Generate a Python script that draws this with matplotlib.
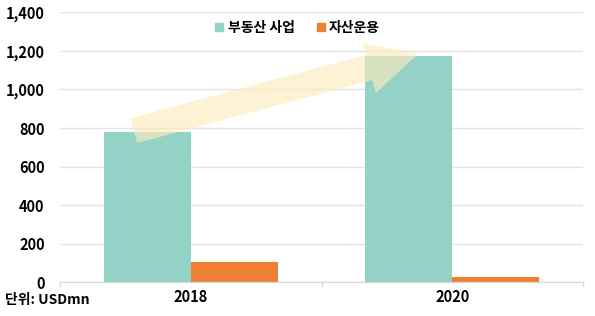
import matplotlib
matplotlib.use("Agg")
import matplotlib.pyplot as plt
from matplotlib.patches import Polygon
from matplotlib.lines import Line2D
import numpy as np

plt.rcParams['font.family'] = ['Noto Sans CJK KR', 'DejaVu Sans']

categories = ["2018", "2020"]
series_names = ["부동산 사업", "자산운용"]
real_estate = [780, 1175]
asset_mgmt = [105, 30]
colors = ["#93D2C5", "#EE8034"]
yticks = [0, 200, 400, 600, 800, 1000, 1200, 1400]

W, H = 595, 316
fig = plt.figure(figsize=(W / 100, H / 100), dpi=100)
ax = fig.add_axes([60 / W, 1 - 282.3 / H, 523 / W, 270 / H])

x = np.arange(len(categories))
bw = 1 / 3
ax.bar(x - bw / 2, real_estate, bw, color=colors[0], label=series_names[0], zorder=2)
ax.bar(x + bw / 2, asset_mgmt, bw, color=colors[1], label=series_names[1], zorder=2)

ax.set_xlim(-0.5, len(categories) - 0.5)
ax.set_ylim(0, 1400)
ax.set_yticks(yticks)
ax.set_yticklabels([f"{v:,}" for v in yticks], fontsize=10.5, fontweight='bold')
ax.set_xticks(x)
ax.set_xticklabels(categories, fontsize=10.5, fontweight='bold')
ax.tick_params(axis='y', length=0, pad=11)
ax.tick_params(axis='x', length=0, pad=5)
# category boundary ticks
for b in np.arange(-0.5, len(categories)):
    ax.plot([b, b], [0, -0.012], transform=ax.get_xaxis_transform(), color="#D9D9D9", lw=1, clip_on=False)
ax.grid(axis='y', color="#E3E3E3", lw=1, zorder=0)
for s in ['top', 'right', 'left']:
    ax.spines[s].set_visible(False)
ax.spines['bottom'].set_color("#D9D9D9")

# decorative arrow (pixel-based polygon)
pts_px = [(131, 118), (366, 55), (362, 43), (418, 54), (376, 93), (372, 80), (137, 143)]
pts = [((px - 60) / 523, (282.3 - py) / 270) for px, py in pts_px]
ax.add_patch(Polygon(pts, closed=True, transform=ax.transAxes, facecolor="#FDEBBE",
                     alpha=0.65, edgecolor='none', zorder=3))

handles = [Line2D([], [], marker='s', ls='none', markersize=6, color=c) for c in colors]
leg = fig.legend(handles, series_names, loc='center', bbox_to_anchor=(297 / W, 1 - 28 / H),
                 ncol=2, frameon=False, handletextpad=0.2, columnspacing=1.5,
                 prop={'size': 10, 'weight': 'bold'}, handlelength=0.8)

fig.text(5 / W, 1 - 300 / H, "단위: USDmn", fontsize=10, fontweight='bold', va='center', ha='left')

fig.savefig("out.png", dpi=100)
